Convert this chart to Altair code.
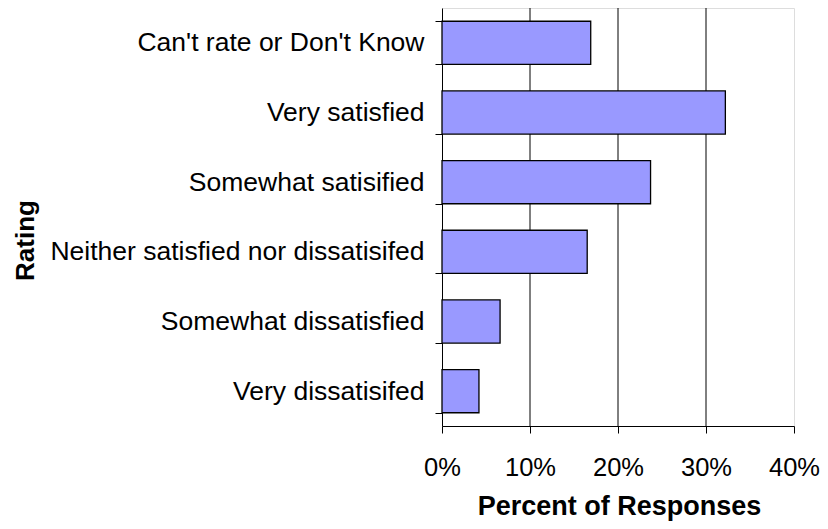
import altair as alt
import pandas as pd

categories = [
    "Can't rate or Don't Know",
    "Very satisfied",
    "Somewhat satisified",
    "Neither satisfied nor dissatisifed",
    "Somewhat dissatisfied",
    "Very dissatisifed",
]
percents = [16.9, 32.2, 23.7, 16.5, 6.6, 4.2]
x_ticks = [0, 10, 20, 30, 40]
grid_values = [10, 20, 30]

df = pd.DataFrame({"Rating": categories, "Percent": percents})
grid_df = pd.DataFrame({"Percent": grid_values})

FONT = "Liberation Sans"

x_scale = alt.Scale(domain=[0, 40], nice=False, zero=True)

x_axis = alt.Axis(
    values=x_ticks,
    labelExpr="datum.value + '%'",
    grid=False,
    domainColor="#000000",
    tickColor="#000000",
    tickSize=7,
    labelPadding=42,
    labelBaseline="alphabetic",
    labelFontSize=25.5,
    labelFont=FONT,
    labelColor="#000000",
    labelFlush=False,
    labelOverlap=False,
    title="Percent of Responses",
    titleFont=FONT,
    titleFontSize=27,
    titleFontWeight="bold",
    titleColor="#000000",
    titleX=177,
    titleY=88,
    titleAlign="center",
    titleBaseline="alphabetic",
)

grid = alt.Chart(grid_df).mark_rule(color="#000000", strokeWidth=1).encode(
    x=alt.X("Percent:Q", scale=x_scale, axis=x_axis)
)

bars = alt.Chart(df).mark_bar(
    color="#9999FF", stroke="#000000", strokeWidth=1.3
).encode(
    x=alt.X("Percent:Q", scale=x_scale, axis=x_axis),
    y=alt.Y(
        "Rating:N",
        sort=categories,
        scale=alt.Scale(paddingInner=0.38, paddingOuter=0.19),
        axis=alt.Axis(
            tickBand="extent",
            grid=False,
            domainColor="#000000",
            tickColor="#000000",
            tickSize=7,
            labelPadding=11,
            labelFontSize=26.5,
            labelFont=FONT,
            labelColor="#000000",
            labelLimit=500,
            title="Rating",
            titleFont=FONT,
            titleFontSize=26,
            titleFontWeight="bold",
            titleColor="#000000",
            titleAngle=270,
            titleX=-409,
            titleY=232,
            titleAlign="center",
            titleBaseline="alphabetic",
        ),
    ),
)

chart = (
    alt.layer(grid, bars)
    .properties(
        width=352,
        height=418,
        autosize=alt.AutoSizeParams(type="none"),
        padding={"left": 434, "top": 0, "right": 26, "bottom": 95},
    )
    .configure_view(stroke="#808080", strokeWidth=1)
    .configure(background="white")
)

chart.save("out.html", embed_options={"renderer": "svg", "actions": False})
